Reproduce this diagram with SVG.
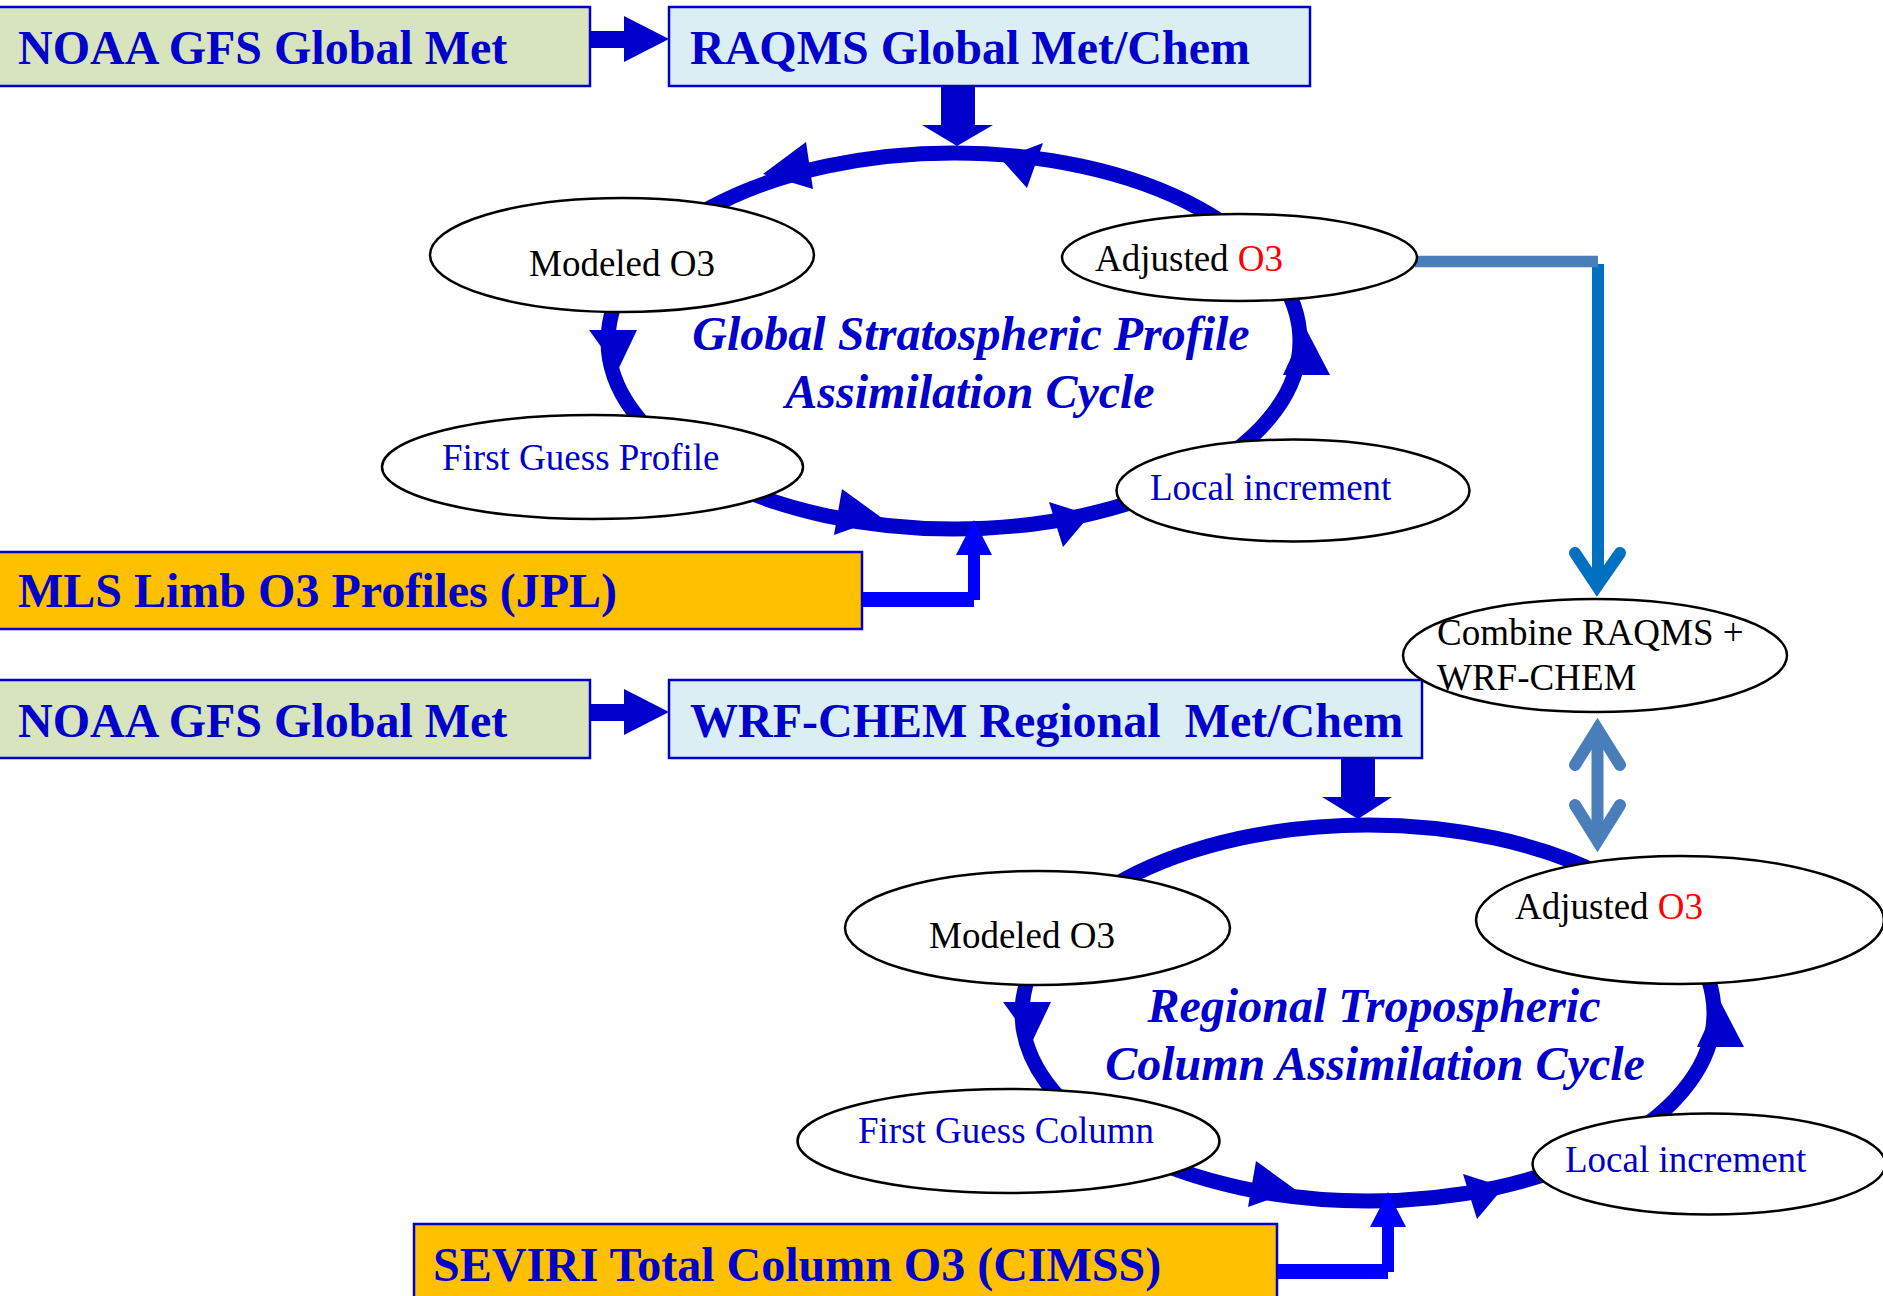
<svg xmlns="http://www.w3.org/2000/svg" width="1883" height="1296" viewBox="0 0 1883 1296">
<style>
.bx{stroke:#0000cc;stroke-width:2.5}
.bt{font-family:"Liberation Serif","Times New Roman",serif;font-weight:bold;font-size:48px;fill:#0000cc}
.el{fill:#fff;stroke:#000;stroke-width:2.5}
.et{font-family:"Liberation Serif","Times New Roman",serif;font-size:37px}
.k{fill:#000}.b{fill:#0000cc}.r{fill:#ff0000}
.ttl{font-family:"Liberation Serif","Times New Roman",serif;font-style:italic;font-weight:bold;font-size:48px;fill:#0000cc;text-anchor:middle}
.ring{fill:none;stroke:#0000cc;stroke-width:15}
.ah{fill:#0000cc}
.feed{fill:#0000ff}
.sb{fill:none;stroke:#4a7ebb;stroke-width:12;stroke-linecap:round;stroke-linejoin:miter}
.db{fill:none;stroke:#0070c0;stroke-width:12;stroke-linecap:round;stroke-linejoin:miter}
</style>
<rect width="1883" height="1296" fill="#fff"/>

<g id="connectors">
  <!-- cycle rings -->
  <ellipse class="ring" cx="954" cy="341" rx="346" ry="188"/>
  <ellipse class="ring" cx="1368" cy="1013" rx="346" ry="188"/>
  <!-- cycle 1 arrowheads -->
  <polygon class="ah" points="763,174 806,142 813,189"/>
  <polygon class="ah" points="1001,159 1043,143 1027,188"/>
  <polygon class="ah" points="589,330 637,330 618,370"/>
  <polygon class="ah" points="842,489 834,535 882,518"/>
  <polygon class="ah" points="1049,502 1063,547 1090,515"/>
  <polygon class="ah" points="1283,375 1330,375 1305,327"/>
  <!-- cycle 2 arrowheads -->
  <polygon class="ah" points="1003,1002 1051,1002 1032,1042"/>
  <polygon class="ah" points="1256,1161 1248,1207 1296,1190"/>
  <polygon class="ah" points="1463,1174 1477,1219 1504,1187"/>
  <polygon class="ah" points="1697,1047 1744,1047 1719,999"/>
  <!-- NOAA -> RAQMS / WRF block arrows -->
  <polygon class="ah" points="590,31 624,31 624,16 669,39 624,62 624,48 590,48"/>
  <polygon class="ah" points="590,704 624,704 624,689 669,712 624,735 624,721 590,721"/>
  <!-- down arrows into cycles -->
  <polygon class="ah" points="941,86 975,86 975,125 993,125 957,146 922,125 941,125"/>
  <polygon class="ah" points="1341,758 1375,758 1375,797 1392,797 1358,819 1322,797 1341,797"/>
  <!-- MLS feed -->
  <rect class="feed" x="860" y="592" width="114" height="15"/>
  <rect class="feed" x="968" y="553" width="12" height="47"/>
  <polygon class="feed" points="956,555 992,555 974,520"/>
  <!-- SEVIRI feed -->
  <rect class="feed" x="1274" y="1264" width="114" height="15"/>
  <rect class="feed" x="1382" y="1225" width="12" height="47"/>
  <polygon class="feed" points="1370,1227 1406,1227 1388,1192"/>
  <!-- Adjusted O3 -> Combine -->
  <line x1="1598" y1="264" x2="1598" y2="586" stroke="#0070c0" stroke-width="12"/>
  <polyline class="db" points="1575,553 1597,586 1620,553"/>
  <line x1="1415" y1="261.5" x2="1598" y2="261.5" stroke="#4a7ebb" stroke-width="11.5"/>
  <!-- Combine <-> Adjusted O3 (regional) -->
  <line x1="1597.5" y1="730" x2="1597.5" y2="840" stroke="#4a7ebb" stroke-width="12"/>
  <polyline class="sb" points="1575,765 1597.5,729 1620,765"/>
  <polyline class="sb" points="1575,805 1597.5,841 1620,805"/>
</g>

<g id="noaa-gfs-1">
  <rect class="bx" x="-3" y="7" width="593" height="79" fill="#d7e4bd"/>
  <text class="bt" x="18" y="64">NOAA GFS Global Met</text>
</g>
<g id="raqms">
  <rect class="bx" x="669" y="7" width="641" height="79" fill="#dbeef4"/>
  <text class="bt" x="690" y="64">RAQMS Global Met/Chem</text>
</g>
<g id="mls">
  <rect class="bx" x="-3" y="552" width="865" height="77" fill="#ffc000"/>
  <text class="bt" x="18" y="607">MLS Limb O3 Profiles (JPL)</text>
</g>
<g id="noaa-gfs-2">
  <rect class="bx" x="-3" y="680" width="593" height="78" fill="#d7e4bd"/>
  <text class="bt" x="18" y="737">NOAA GFS Global Met</text>
</g>
<g id="wrf-chem">
  <rect class="bx" x="669" y="680" width="753" height="78" fill="#dbeef4"/>
  <text class="bt" x="690" y="737" xml:space="preserve">WRF-CHEM Regional  Met/Chem</text>
</g>
<g id="seviri">
  <rect class="bx" x="414" y="1224" width="863" height="90" fill="#ffc000"/>
  <text class="bt" x="433" y="1281">SEVIRI Total Column O3 (CIMSS)</text>
</g>

<g id="modeled-o3-1">
  <ellipse class="el" cx="622" cy="255" rx="192" ry="57"/>
  <text class="et k" x="529" y="276">Modeled O3</text>
</g>
<g id="adjusted-o3-1">
  <ellipse class="el" cx="1239.5" cy="257.5" rx="177.5" ry="43.5"/>
  <text class="et k" x="1095" y="271">Adjusted <tspan class="r">O3</tspan></text>
</g>
<g id="first-guess-profile">
  <ellipse class="el" cx="592.5" cy="467" rx="210.5" ry="52"/>
  <text class="et b" x="442" y="470">First Guess Profile</text>
</g>
<g id="local-increment-1">
  <ellipse class="el" cx="1293" cy="490.5" rx="176.5" ry="51"/>
  <text class="et b" x="1150" y="500">Local increment</text>
</g>
<g id="global-cycle-title">
  <text class="ttl" x="971" y="350">Global Stratospheric Profile</text>
  <text class="ttl" x="970" y="408">Assimilation Cycle</text>
</g>

<g id="combine">
  <ellipse class="el" cx="1595" cy="655.5" rx="192" ry="56.5"/>
  <text class="et k" x="1437" y="645">Combine RAQMS +</text>
  <text class="et k" x="1437" y="690">WRF-CHEM</text>
</g>

<g id="modeled-o3-2">
  <ellipse class="el" cx="1037.5" cy="928" rx="192.5" ry="57"/>
  <text class="et k" x="929" y="948">Modeled O3</text>
</g>
<g id="adjusted-o3-2">
  <ellipse class="el" cx="1680" cy="920" rx="204" ry="64"/>
  <text class="et k" x="1515" y="919">Adjusted <tspan class="r">O3</tspan></text>
</g>
<g id="first-guess-column">
  <ellipse class="el" cx="1008.5" cy="1141" rx="211" ry="52"/>
  <text class="et b" x="858" y="1143">First Guess Column</text>
</g>
<g id="local-increment-2">
  <ellipse class="el" cx="1709" cy="1164" rx="176.5" ry="50.5"/>
  <text class="et b" x="1565" y="1172">Local increment</text>
</g>
<g id="regional-cycle-title">
  <text class="ttl" x="1374" y="1022">Regional Tropospheric</text>
  <text class="ttl" x="1375" y="1080">Column Assimilation Cycle</text>
</g>
</svg>
